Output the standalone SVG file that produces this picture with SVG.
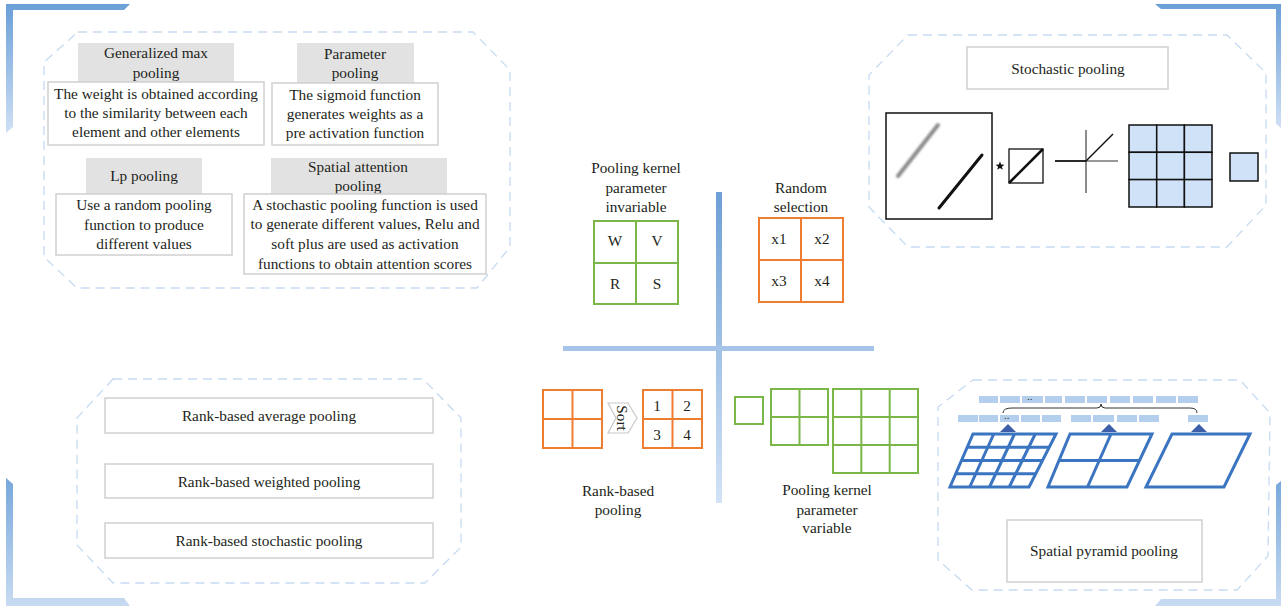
<svg xmlns="http://www.w3.org/2000/svg" width="1281" height="606" viewBox="0 0 1281 606">
  <defs>
    <style>
      .t { font-family: "Liberation Serif", "Times New Roman", serif; font-size: 15.3px; fill: #231f20; text-anchor: middle; dominant-baseline: central; }
      .dots { font-family: "Liberation Sans", Arial, sans-serif; font-size: 8px; font-weight: bold; fill: #333; text-anchor: middle; letter-spacing: 0.5px; }
      .panel { fill: none; stroke: #c6daf2; stroke-width: 1.3; stroke-dasharray: 9 6; }
      .hdr { fill: #e2e2e2; }
      .box { fill: #ffffff; stroke: #d0d0d0; stroke-width: 1.5; }
      .grn { fill: none; stroke: #7ab648; stroke-width: 2; }
      .org { fill: none; stroke: #ee7d31; stroke-width: 2; }
      .spp { fill: none; stroke: #3b74c0; stroke-width: 3; stroke-linejoin: miter; }
      .seg { fill: #b4cfee; }
      .tri { fill: #3d5ea8; }
      .cell { fill: #cfe2f7; stroke: #111; stroke-width: 1.5; }
    </style>
    <linearGradient id="gDown" x1="0" y1="0" x2="0" y2="1">
      <stop offset="0" stop-color="#6a9fd8"/>
      <stop offset="1" stop-color="#cfe0f5"/>
    </linearGradient>
    <linearGradient id="gUp" x1="0" y1="0" x2="0" y2="1">
      <stop offset="0" stop-color="#78a8dc"/>
      <stop offset="1" stop-color="#c8dbf2"/>
    </linearGradient>
    <linearGradient id="gAxis" x1="0" y1="0" x2="0" y2="1">
      <stop offset="0" stop-color="#6d9fd5"/>
      <stop offset="1" stop-color="#d3e3f6"/>
    </linearGradient>
    <filter id="soft" x="-20%" y="-20%" width="140%" height="140%">
      <feGaussianBlur stdDeviation="0.9"/>
    </filter>
  </defs>

  <rect width="1281" height="606" fill="#ffffff"/>

  <!-- corner brackets -->
  <g id="corners">
    <polygon points="6,4 130,4 124,10 13,10 13,127 6,133" fill="url(#gDown)"/>
    <polygon points="1155,4 1281,4 1281,128 1276,124 1276,9 1161,9" fill="url(#gDown)"/>
    <polygon points="6,478 13,484 13,598 124,598 130,606 6,606" fill="url(#gUp)"/>
    <polygon points="1276,485 1281,481 1281,606 1155,606 1161,599 1276,599" fill="url(#gUp)"/>
  </g>

  <!-- dashed panel outlines -->
  <g id="panels">
    <polygon class="panel" points="78,32 473,32 510,70 510,247 477,288 77,288 44,257 44,62"/>
    <polygon class="panel" points="908,35 1227,35 1266,73 1266,205 1227,247 908,247 869,207 869,75"/>
    <polygon class="panel" points="113,379 423,379 461,418 461,547 425,583 113,583 77,545 77,418"/>
    <polygon class="panel" points="973,380 1240,380 1270,413 1268,556 1237,590 972,590 938,560 938,407"/>
  </g>

  <!-- centre axes -->
  <g id="connectors">
    <rect x="716" y="192" width="6" height="311" fill="url(#gAxis)"/>
    <rect x="563" y="346" width="311" height="5" fill="#a6c3ea"/>
  </g>

  <!-- top-left panel -->
  <g id="generalized-max">
    <rect class="hdr" x="78" y="43" width="156" height="39"/>
    <text class="t" x="156" y="52">Generalized max</text>
    <text class="t" x="156" y="72">pooling</text>
    <rect class="box" x="48" y="82" width="216" height="63"/>
    <text class="t" x="156" y="93">The weight is obtained according</text>
    <text class="t" x="156" y="112">to the similarity between each</text>
    <text class="t" x="156" y="131">element and other elements</text>
  </g>
  <g id="parameter-pooling">
    <rect class="hdr" x="297" y="43" width="117" height="40"/>
    <text class="t" x="355" y="53">Parameter</text>
    <text class="t" x="355" y="72">pooling</text>
    <rect class="box" x="272" y="83" width="166" height="62"/>
    <text class="t" x="355" y="94">The sigmoid function</text>
    <text class="t" x="355" y="113">generates weights as a</text>
    <text class="t" x="355" y="132">pre activation function</text>
  </g>
  <g id="lp-pooling">
    <rect class="hdr" x="86" y="158" width="116" height="36"/>
    <text class="t" x="144" y="175">Lp pooling</text>
    <rect class="box" x="56" y="194" width="176" height="61"/>
    <text class="t" x="144" y="204">Use a random pooling</text>
    <text class="t" x="144" y="224">function to produce</text>
    <text class="t" x="144" y="243">different values</text>
  </g>
  <g id="spatial-attention">
    <rect class="hdr" x="271" y="158" width="176" height="36"/>
    <text class="t" x="358" y="166">Spatial attention</text>
    <text class="t" x="358" y="185">pooling</text>
    <rect class="box" x="244" y="194" width="242" height="80"/>
    <text class="t" x="365" y="204">A stochastic pooling function is used</text>
    <text class="t" x="365" y="223">to generate different values, Relu and</text>
    <text class="t" x="365" y="243">soft plus are used as activation</text>
    <text class="t" x="365" y="263">functions to obtain attention scores</text>
  </g>

  <!-- centre quadrants -->
  <g id="kernel-invariable">
    <text class="t" x="636" y="167">Pooling kernel</text>
    <text class="t" x="636" y="187">parameter</text>
    <text class="t" x="636" y="206">invariable</text>
    <rect class="grn" x="594" y="221" width="84" height="83"/>
    <line class="grn" x1="636" y1="221" x2="636" y2="304"/>
    <line class="grn" x1="594" y1="263" x2="678" y2="263"/>
    <text class="t" x="615" y="240">W</text>
    <text class="t" x="657" y="240">V</text>
    <text class="t" x="615" y="283">R</text>
    <text class="t" x="657" y="283">S</text>
  </g>
  <g id="random-selection">
    <text class="t" x="801" y="187">Random</text>
    <text class="t" x="801" y="206">selection</text>
    <rect class="org" x="759" y="218" width="84" height="84"/>
    <line class="org" x1="801" y1="218" x2="801" y2="302"/>
    <line class="org" x1="759" y1="260" x2="843" y2="260"/>
    <text class="t" x="779" y="238">x1</text>
    <text class="t" x="822" y="238">x2</text>
    <text class="t" x="779" y="280">x3</text>
    <text class="t" x="822" y="280">x4</text>
  </g>
  <g id="rank-based">
    <rect class="org" x="543" y="390" width="59" height="58"/>
    <line class="org" x1="572.5" y1="390" x2="572.5" y2="448"/>
    <line class="org" x1="543" y1="419" x2="602" y2="419"/>
    <polygon points="608,403 628,403 637,418 628,433 608,433 616,418" fill="#ffffff" stroke="#c8c8c8" stroke-width="1.2"/>
    <text class="t" x="622" y="418" transform="rotate(90 622 418)">Sort</text>
    <rect class="org" x="643" y="390" width="59" height="58"/>
    <line class="org" x1="672.5" y1="390" x2="672.5" y2="448"/>
    <line class="org" x1="643" y1="419" x2="702" y2="419"/>
    <text class="t" x="657" y="405">1</text>
    <text class="t" x="687" y="405">2</text>
    <text class="t" x="657" y="434">3</text>
    <text class="t" x="687" y="434">4</text>
    <text class="t" x="618" y="490">Rank-based</text>
    <text class="t" x="618" y="509">pooling</text>
  </g>
  <g id="kernel-variable">
    <rect class="grn" x="735" y="397" width="28" height="27"/>
    <rect class="grn" x="771" y="389" width="57" height="56"/>
    <line class="grn" x1="799.5" y1="389" x2="799.5" y2="445"/>
    <line class="grn" x1="771" y1="417" x2="828" y2="417"/>
    <rect class="grn" x="833" y="389" width="85" height="84"/>
    <line class="grn" x1="861.3" y1="389" x2="861.3" y2="473"/>
    <line class="grn" x1="889.7" y1="389" x2="889.7" y2="473"/>
    <line class="grn" x1="833" y1="417" x2="918" y2="417"/>
    <line class="grn" x1="833" y1="445" x2="918" y2="445"/>
    <text class="t" x="827" y="489">Pooling kernel</text>
    <text class="t" x="827" y="509">parameter</text>
    <text class="t" x="827" y="527">variable</text>
  </g>

  <!-- stochastic pooling panel -->
  <g id="stochastic-pooling">
    <rect class="box" x="967" y="47" width="201" height="42"/>
    <text class="t" x="1068" y="68">Stochastic pooling</text>
    <rect x="886" y="113" width="106" height="106" fill="none" stroke="#111" stroke-width="1.5"/>
    <line x1="898" y1="176" x2="938" y2="125" stroke="#8a8a8a" stroke-width="4" stroke-linecap="round" filter="url(#soft)"/>
    <line x1="939" y1="208" x2="982" y2="155" stroke="#111" stroke-width="3" stroke-linecap="round"/>
    <polygon points="1000,161.5 1001.2,164.6 1004.4,164.7 1001.9,166.7 1002.8,169.8 1000,168 997.2,169.8 998.1,166.7 995.6,164.7 998.8,164.6" fill="#111"/>
    <rect x="1009" y="149" width="34" height="34" fill="none" stroke="#111" stroke-width="1.3"/>
    <line x1="1009" y1="183" x2="1043" y2="149" stroke="#111" stroke-width="2.6"/>
    <line x1="1086" y1="130" x2="1086" y2="193" stroke="#666" stroke-width="1.5"/>
    <line x1="1086" y1="161" x2="1118" y2="161" stroke="#333" stroke-width="1"/>
    <line x1="1055" y1="161" x2="1086" y2="161" stroke="#111" stroke-width="1.8"/>
    <line x1="1086" y1="161" x2="1113" y2="134" stroke="#111" stroke-width="1.5"/>
    <rect class="cell" x="1129" y="125" width="27.7" height="27.3"/>
    <rect class="cell" x="1156.7" y="125" width="27.7" height="27.3"/>
    <rect class="cell" x="1184.4" y="125" width="27.6" height="27.3"/>
    <rect class="cell" x="1129" y="152.3" width="27.7" height="27.3"/>
    <rect class="cell" x="1156.7" y="152.3" width="27.7" height="27.3"/>
    <rect class="cell" x="1184.4" y="152.3" width="27.6" height="27.3"/>
    <rect class="cell" x="1129" y="179.6" width="27.7" height="27.4"/>
    <rect class="cell" x="1156.7" y="179.6" width="27.7" height="27.4"/>
    <rect class="cell" x="1184.4" y="179.6" width="27.6" height="27.4"/>
    <rect class="cell" x="1230" y="153" width="28" height="28"/>
  </g>

  <!-- spatial pyramid pooling panel -->
  <g id="spatial-pyramid">
    <rect class="seg" x="979" y="396" width="19" height="7"/>
    <rect class="seg" x="1000" y="396" width="20" height="7"/>
    <rect class="seg" x="1022" y="396" width="21" height="7"/>
    <rect class="seg" x="1045" y="396" width="17" height="7"/>
    <rect class="seg" x="1065" y="396" width="20" height="7"/>
    <rect class="seg" x="1087" y="396" width="20" height="7"/>
    <rect class="seg" x="1110" y="396" width="20" height="7"/>
    <rect class="seg" x="1133" y="396" width="20" height="7"/>
    <rect class="seg" x="1156" y="396" width="20" height="7"/>
    <rect class="seg" x="1178" y="396" width="20" height="7"/>
    <text class="dots" x="1030" y="400">..</text>
    <path d="M1003,413 Q1003,408 1012,408 L1097,408 Q1101,408 1101,404 Q1101,408 1105,408 L1190,408 Q1197,408 1197,413" fill="none" stroke="#333" stroke-width="1"/>
    <rect class="seg" x="958" y="415" width="20" height="7"/>
    <rect class="seg" x="979" y="415" width="19" height="7"/>
    <rect class="seg" x="1000" y="415" width="19" height="7"/>
    <rect class="seg" x="1021" y="415" width="19" height="7"/>
    <rect class="seg" x="1042" y="415" width="19" height="7"/>
    <rect class="seg" x="1071" y="415" width="20" height="7"/>
    <rect class="seg" x="1093" y="415" width="21" height="7"/>
    <rect class="seg" x="1117" y="415" width="20" height="7"/>
    <rect class="seg" x="1139" y="415" width="20" height="7"/>
    <rect class="seg" x="1188" y="415" width="20" height="7"/>
    <text class="dots" x="1007" y="419">..</text>
    <polygon class="tri" points="1000,432 1008,424 1016,432"/>
    <polygon class="tri" points="1101,432 1109,424 1117,432"/>
    <polygon class="tri" points="1191,432 1199,424 1207,432"/>
    <!-- 4x4 grid -->
    <polygon class="spp" points="973,434 1056,434 1029,487 950,487"/>
    <line class="spp" x1="967.25" y1="447.25" x2="1049.25" y2="447.25"/>
    <line class="spp" x1="961.5" y1="460.5" x2="1042.5" y2="460.5"/>
    <line class="spp" x1="955.75" y1="473.75" x2="1035.75" y2="473.75"/>
    <line class="spp" x1="993.75" y1="434" x2="969.75" y2="487"/>
    <line class="spp" x1="1014.5" y1="434" x2="989.5" y2="487"/>
    <line class="spp" x1="1035.25" y1="434" x2="1009.25" y2="487"/>
    <!-- 2x2 grid -->
    <polygon class="spp" points="1070,434 1152,434 1127,487 1048,487"/>
    <line class="spp" x1="1059" y1="460.5" x2="1139.5" y2="460.5"/>
    <line class="spp" x1="1111" y1="434" x2="1087.5" y2="487"/>
    <!-- 1x1 grid -->
    <polygon class="spp" points="1172,434 1250,434 1224,487 1146,487"/>
    <rect class="box" x="1007" y="520" width="195" height="62"/>
    <text class="t" x="1104" y="550">Spatial pyramid pooling</text>
  </g>

  <!-- rank-based panel -->
  <g id="rank-based-list">
    <rect class="box" x="105" y="398" width="328" height="35"/>
    <text class="t" x="269" y="415">Rank-based average pooling</text>
    <rect class="box" x="105" y="464" width="328" height="34"/>
    <text class="t" x="269" y="481">Rank-based weighted pooling</text>
    <rect class="box" x="105" y="523" width="328" height="35"/>
    <text class="t" x="269" y="540">Rank-based stochastic pooling</text>
  </g>
</svg>
